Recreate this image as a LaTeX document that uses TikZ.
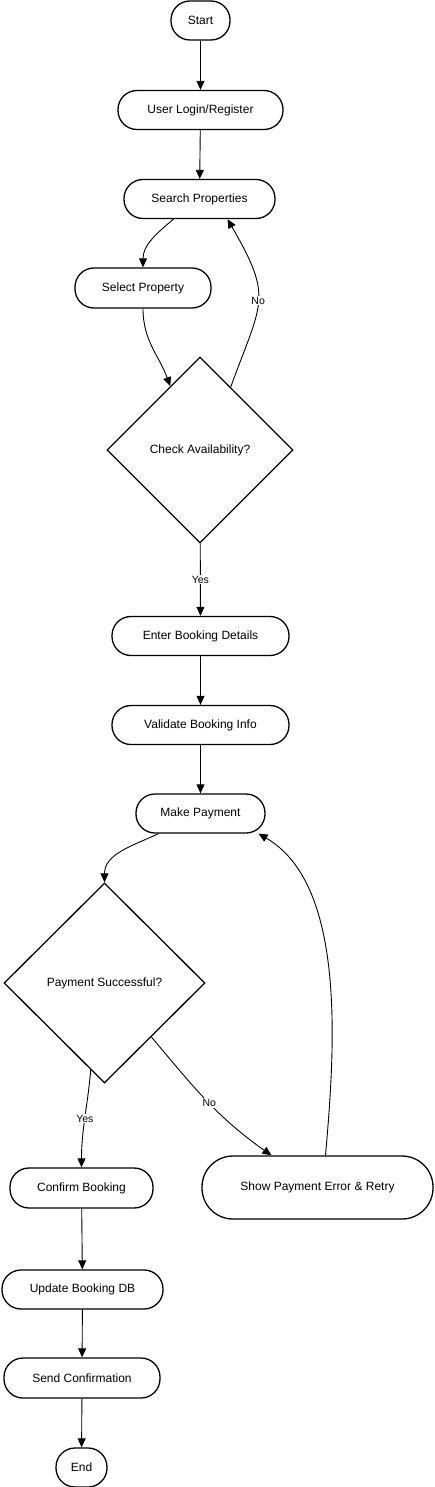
\documentclass[tikz,border=0pt]{standalone}
\usepackage{fontspec}
\setmainfont{Liberation Sans}
\usetikzlibrary{shapes.geometric,arrows.meta}

\tikzset{
  stadium/.style={draw, line width=1.3pt, rounded corners=19pt, minimum height=39pt, inner sep=0pt, font=\fontsize{12}{14}\selectfont},
  decision/.style={draw, diamond, line width=1.3pt, inner sep=0pt, font=\fontsize{12}{14}\selectfont},
  flow/.style={-{Triangle[length=9pt,width=8pt]}, line width=0.9pt},
  lab/.style={fill=white, inner sep=1pt, font=\fontsize{10.5}{12}\selectfont}
}

\begin{document}
\begin{tikzpicture}[x=1pt, y=-1pt]
    \useasboundingbox (0,0) rectangle (434,1487);

    % Nodes
    \node[stadium, minimum width=59pt] (start) at (200.5,20.5) {Start};
    \node[stadium, minimum width=165pt] (login) at (200.5,110) {User Login/Register};
    \node[stadium, minimum width=151pt] (search) at (199.5,199) {Search Properties};
    \node[stadium, minimum width=136pt, minimum height=40pt] (select) at (143,288) {Select Property};
    \node[decision, minimum width=186pt, minimum height=186pt] (avail) at (200,450) {Check Availability?};
    \node[stadium, minimum width=177pt] (details) at (200.5,636) {Enter Booking Details};
    \node[stadium, minimum width=177pt] (validate) at (200.5,725) {Validate Booking Info};
    \node[stadium, minimum width=129pt] (pay) at (200.5,813.5) {Make Payment};
    \node[decision, minimum width=201pt, minimum height=200pt] (paid) at (104.5,983) {Payment Successful?};
    \node[stadium, minimum width=143pt, minimum height=40pt] (confirm) at (81.5,1188) {Confirm Booking};
    \node[stadium, minimum width=231pt, minimum height=63pt, rounded corners=31pt] (retry) at (317.5,1187.5) {Show Payment Error \& Retry};
    \node[stadium, minimum width=161pt] (update) at (82.5,1289.5) {Update Booking DB};
    \node[stadium, minimum width=156pt, minimum height=40pt] (send) at (82,1378) {Send Confirmation};
    \node[stadium, minimum width=51pt] (stop) at (81.5,1467.5) {End};

    % Edges
    \draw[flow] (start) -- (login);
    \draw[flow] (login) -- (search);
    \draw[flow] ([xshift=-26pt]search.south) to[out=-140, in=90] (select.north);
    \draw[flow] (select.south) to[out=-90, in=110] (avail.115);
    \draw[flow] (avail.64) to[out=70, in=-60, looseness=1.4] node[lab, pos=0.5] {No} ([xshift=28pt]search.south);
    \draw[flow] (avail) -- node[lab] {Yes} (details);
    \draw[flow] (details) -- (validate);
    \draw[flow] (validate) -- (pay);
    \draw[flow] ([xshift=-42pt]pay.south) to[out=-155, in=90] (paid.north);
    \draw[flow] (paid.-99) to[out=-95, in=90] node[lab, pos=0.5] {Yes} (confirm.north);
    \draw[flow] (paid.-49) to[out=-50, in=145] node[lab, pos=0.52] {No} ([xshift=-46pt]retry.north);
    \draw[flow] ([xshift=8pt]retry.north) to[out=85, in=-30, looseness=0.8] ([xshift=58pt]pay.south);
    \draw[flow] (confirm) -- (update);
    \draw[flow] (update) -- (send);
    \draw[flow] (send) -- (stop);
\end{tikzpicture}
\end{document}
